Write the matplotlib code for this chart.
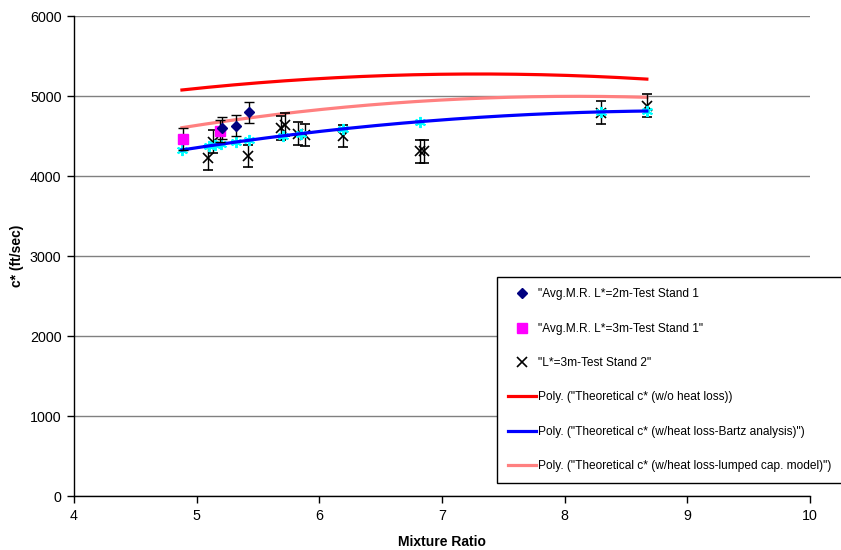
import numpy as np
import matplotlib
matplotlib.use("Agg")
import matplotlib.pyplot as plt

plt.rcParams['font.family'] = ['Liberation Sans', 'DejaVu Sans']

# measured points (avg mixture ratio, c* ft/sec)
mr_ts1_2m = [5.21, 5.32, 5.43]
cs_ts1_2m = [4600, 4630, 4795]
err_ts1_2m = [135, 135, 135]

mr_ts1_3m = [4.89, 5.19]
cs_ts1_3m = [4465, 4565]
err_ts1_3m = [140, 135]

mr_ts2 = [5.09, 5.13, 5.42, 5.69, 5.72, 5.83, 5.88, 6.19, 6.82, 6.85, 8.30, 8.67]
cs_ts2 = [4230, 4430, 4250, 4600, 4640, 4530, 4510, 4500, 4310, 4310, 4790, 4880]
err_ts2 = [150, 145, 140, 145, 145, 140, 140, 140, 145, 145, 145, 145]

# theoretical c* at the test mixture ratios
mr_theory = [4.88, 5.10, 5.15, 5.20, 5.32, 5.43, 5.70, 5.85, 6.19, 6.82, 8.30, 8.67]
cs_no_loss = [5075, 5110, 5117, 5125, 5141, 5156, 5188, 5203, 5233, 5267, 5241, 5211]
cs_bartz = [4325, 4376, 4388, 4399, 4425, 4448, 4502, 4530, 4588, 4679, 4802, 4812]
cs_lumped = [4604, 4656, 4667, 4678, 4704, 4726, 4778, 4805, 4858, 4934, 4994, 4984]


def poly_trend(x, y, deg=2):
    """Excel-style polynomial trendline over the data range."""
    coef = np.polyfit(x, y, deg)
    xs = np.linspace(min(x), max(x), 200)
    return xs, np.polyval(coef, xs)


fig = plt.figure(figsize=(8.41, 5.5), dpi=100)
ax = fig.add_axes([74 / 841, 1 - 496 / 550, 736 / 841, 480 / 550])

ax.set_axisbelow(True)
ax.yaxis.grid(True, color='#808080', linewidth=1.0)

eb_kw = dict(ecolor='black', elinewidth=1.0, capsize=3.3, capthick=1.0, linestyle='none')

h_x = ax.errorbar(mr_ts2, cs_ts2, yerr=err_ts2, marker='x', color='black', ms=7, mew=1.2,
                  label='"L*=3m-Test Stand 2"', zorder=3, **eb_kw)
ax.plot(mr_theory, cs_bartz, linestyle='none', marker=(6, 2, 0), color='#00FFFF', ms=8, mew=1.4, zorder=4)
h_sq = ax.errorbar(mr_ts1_3m, cs_ts1_3m, yerr=err_ts1_3m, marker='s', color='#FF00FF', ms=7,
                   label='"Avg.M.R. L*=3m-Test Stand 1"', zorder=5, **eb_kw)
h_dia = ax.errorbar(mr_ts1_2m, cs_ts1_2m, yerr=err_ts1_2m, marker='D', color='#000080', ms=5.5,
                    label='"Avg.M.R. L*=2m-Test Stand 1', zorder=5, **eb_kw)

xs, ys = poly_trend(mr_theory, cs_no_loss)
h_red, = ax.plot(xs, ys, color='#FF0000', lw=2.3, zorder=2,
                 label='Poly. ("Theoretical c* (w/o heat loss))')
xs, ys = poly_trend(mr_theory, cs_bartz)
h_blue, = ax.plot(xs, ys, color='#0000FF', lw=2.3, zorder=4,
                  label='Poly. ("Theoretical c* (w/heat loss-Bartz analysis)")')
xs, ys = poly_trend(mr_theory, cs_lumped)
h_pink, = ax.plot(xs, ys, color='#FF8080', lw=2.3, zorder=2,
                  label='Poly. ("Theoretical c* (w/heat loss-lumped cap. model)")')

ax.set_xlim(4, 10)
ax.set_ylim(0, 6000)
ax.set_xticks(range(4, 11))
ax.set_yticks(range(0, 6001, 1000))
ax.tick_params(direction='out', length=5, width=1, labelsize=10.3, color='black', pad=4)
for s in ['top', 'right']:
    ax.spines[s].set_visible(False)
for s in ['left', 'bottom']:
    ax.spines[s].set_color('black')
    ax.spines[s].set_linewidth(1.0)

ax.set_xlabel('Mixture Ratio', fontsize=10, fontweight='bold', labelpad=9)
ax.set_ylabel('c* (ft/sec)', fontsize=10, fontweight='bold', labelpad=4)

handles = [h_dia[0], h_sq[0], h_x[0], h_red, h_blue, h_pink]
labels = [h.get_label() for h in [h_dia, h_sq, h_x, h_red, h_blue, h_pink]]
leg = fig.legend(handles, labels, loc='upper left', bbox_to_anchor=(497 / 841, 1 - 277 / 550),
                 fontsize=8.6, frameon=True, fancybox=False, edgecolor='black', framealpha=1,
                 handlelength=2.3, handletextpad=0.15, borderpad=0.95, labelspacing=1.87,
                 borderaxespad=0)
leg.get_frame().set_linewidth(1.0)

fig.savefig('out.png', dpi=100)
